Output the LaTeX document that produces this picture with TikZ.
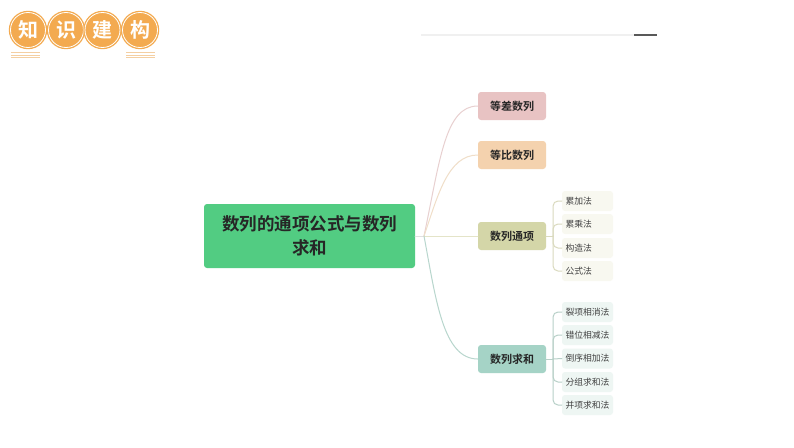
\documentclass[tikz,border=0pt]{standalone}
\usepackage{fontspec}
\newfontfamily\cjk{Noto Sans CJK SC}[BoldFont={Noto Sans CJK SC Bold}]
\definecolor{rootgreen}{HTML}{52CC82}
\definecolor{coinorange}{HTML}{F3AA50}
\definecolor{stripe}{HTML}{F4CFA2}
\definecolor{fillA}{RGB}{232,195,195}
\definecolor{fillB}{RGB}{244,210,174}
\definecolor{fillC}{RGB}{212,214,168}
\definecolor{fillD}{RGB}{165,211,198}
\definecolor{lineA}{RGB}{232,208,208}
\definecolor{lineB}{RGB}{240,222,200}
\definecolor{lineC}{RGB}{228,228,200}
\definecolor{lineD}{RGB}{184,214,205}
\definecolor{subC}{RGB}{218,218,190}
\definecolor{subD}{RGB}{184,208,200}
\definecolor{leafC}{RGB}{248,248,240}
\definecolor{leafD}{RGB}{238,246,243}
\tikzset{
  rootbox/.style={rectangle, rounded corners=3pt, fill=rootgreen, minimum width=211pt, minimum height=64pt, inner sep=0pt, align=center, font=\cjk\bfseries\fontsize{17.5}{23.5}\selectfont, text=black!85},
  branchbox/.style={rectangle, rounded corners=3pt, minimum width=68pt, minimum height=28pt, inner sep=0pt, font=\cjk\bfseries\fontsize{11}{13}\selectfont, text=black!85},
  leafbox/.style={rectangle, rounded corners=3pt, text width=44pt, align=left, inner xsep=3.5pt, inner ysep=0pt, minimum height=20pt, font=\cjk\fontsize{8.8}{10}\selectfont, text=black!75},
  coin/.style={circle, fill=coinorange, draw=coinorange, line width=1.3pt, double=white, double distance=0.8pt, minimum size=35pt, inner sep=0pt, font=\cjk\bfseries\fontsize{20}{22}\selectfont, text=white},
  link/.style={line width=1pt, line cap=round},
  stripeline/.style={stripe, line width=1pt},
}
\begin{document}
\begin{tikzpicture}[x=1pt,y=-1pt]
\useasboundingbox[fill=white] (0,0) rectangle (794,447);
% badge
\node[coin] (coin1) at (28,30){知};
\node[coin] (coin2) at (66,30){识};
\node[coin] (coin3) at (102.5,30){建};
\node[coin] (coin4) at (140,30){构};
\coordinate (s1) at (11,52.7);
\coordinate (s2) at (40,52.7);
\coordinate (s3) at (11,55.2);
\coordinate (s4) at (40,55.2);
\coordinate (s5) at (11,57.7);
\coordinate (s6) at (40,57.7);
\coordinate (s7) at (126,52.7);
\coordinate (s8) at (155,52.7);
\coordinate (s9) at (126,55.2);
\coordinate (s10) at (155,55.2);
\coordinate (s11) at (126,57.7);
\coordinate (s12) at (155,57.7);
\draw[stripeline] (s1) -- (s2);
\draw[stripeline] (s3) -- (s4);
\draw[stripeline] (s5) -- (s6);
\draw[stripeline] (s7) -- (s8);
\draw[stripeline] (s9) -- (s10);
\draw[stripeline] (s11) -- (s12);
% top rule
\coordinate (rule0) at (421,35);
\coordinate (rule1) at (634,35);
\coordinate (rule2) at (657,35);
\draw[black!6, line width=1.2pt] (rule0) -- (rule1);
\draw[black!65, line width=1.2pt] (rule1) -- (rule2);
% map
\node[rootbox] (root) at (309.5,236){数列的通项公式与数列\\求和};
\coordinate (fork) at (424,236);
\node[branchbox, fill=fillA] (branch1) at (512,106){等差数列};
\node[branchbox, fill=fillB] (branch2) at (512,155){等比数列};
\node[branchbox, fill=fillC] (branch3) at (512,236){数列通项};
\node[branchbox, fill=fillD] (branch4) at (512,359){数列求和};
\draw[link, black!12] (root.east) -- (fork);
\draw[link, lineA] (fork) .. controls (440,160) and (445,106) .. (branch1.west);
\draw[link, lineB] (fork) .. controls (438,195) and (448,155) .. (branch2.west);
\draw[link, lineC] (fork) -- (branch3.west);
\draw[link, lineD] (fork) .. controls (436,300) and (443,359) .. (branch4.west);
\node[leafbox, fill=leafC] (leaf1) at (587.5,201){累加法};
\node[leafbox, fill=leafC] (leaf2) at (587.5,224){累乘法};
\node[leafbox, fill=leafC] (leaf3) at (587.5,248){构造法};
\node[leafbox, fill=leafC] (leaf4) at (587.5,271){公式法};
\node[leafbox, fill=leafD] (leaf5) at (587.5,312){裂项相消法};
\node[leafbox, fill=leafD] (leaf6) at (587.5,335){错位相减法};
\node[leafbox, fill=leafD] (leaf7) at (587.5,358.5){倒序相加法};
\node[leafbox, fill=leafD] (leaf8) at (587.5,382){分组求和法};
\node[leafbox, fill=leafD] (leaf9) at (587.5,405){并项求和法};
\coordinate (trunk3) at (553,236);
\coordinate (trunk4) at (553,359);
\draw[link, subC] (branch3.east) -- (trunk3);
\draw[link, rounded corners=5pt, subC] (trunk3) |- (leaf1.west);
\draw[link, rounded corners=5pt, subC] (trunk3) |- (leaf2.west);
\draw[link, rounded corners=5pt, subC] (trunk3) |- (leaf3.west);
\draw[link, rounded corners=5pt, subC] (trunk3) |- (leaf4.west);
\draw[link, subD] (branch4.east) -- (trunk4);
\draw[link, rounded corners=5pt, subD] (trunk4) |- (leaf5.west);
\draw[link, rounded corners=5pt, subD] (trunk4) |- (leaf6.west);
\draw[link, subD] (trunk4) -- (leaf7.west);
\draw[link, rounded corners=5pt, subD] (trunk4) |- (leaf8.west);
\draw[link, rounded corners=5pt, subD] (trunk4) |- (leaf9.west);
\end{tikzpicture}
\end{document}
